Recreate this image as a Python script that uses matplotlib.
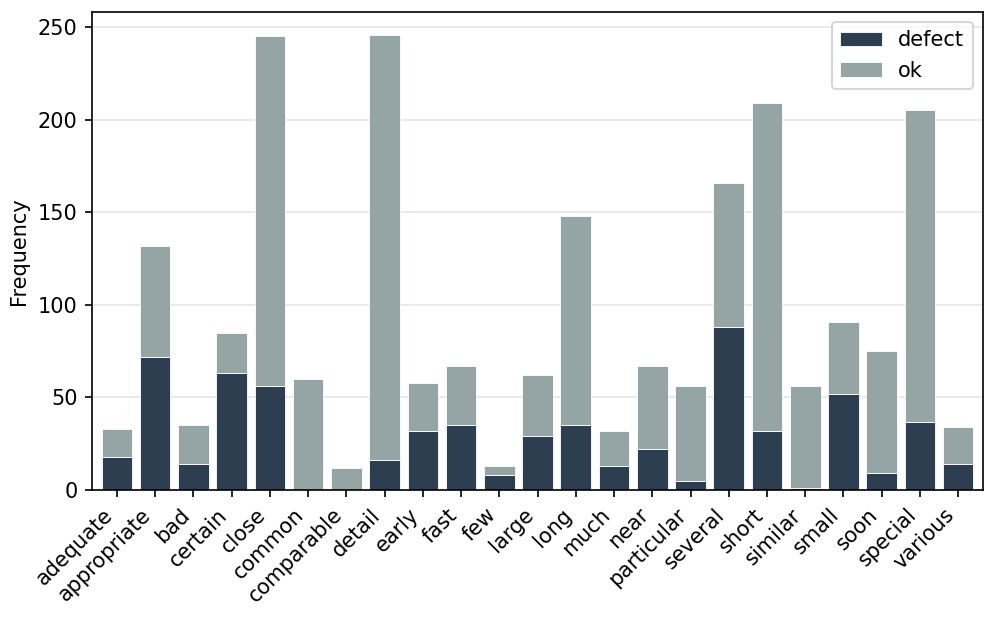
import numpy as np
import matplotlib.pyplot as plt

words = ['adequate', 'appropriate', 'bad', 'certain', 'close', 'common',
         'comparable', 'detail', 'early', 'fast', 'few', 'large', 'long',
         'much', 'near', 'particular', 'several', 'short', 'similar',
         'small', 'soon', 'special', 'various']
defect = [18, 72, 14, 63, 56, 0, 0, 16, 32, 35, 8, 29, 35,
          13, 22, 5, 88, 32, 1, 52, 9, 37, 14]
total = [33, 132, 35, 85, 245, 60, 12, 246, 58, 67, 13, 62, 148,
         32, 67, 56, 166, 209, 56, 91, 75, 205, 34]

ok = np.array(total) - np.array(defect)
x = np.arange(len(words))

fig, ax = plt.subplots(figsize=(6.64, 4.12), dpi=150)
fig.subplots_adjust(left=0.0924, right=0.987, top=0.981, bottom=0.207)

ax.bar(x, defect, width=0.8, color='#2c3e50', edgecolor='white', linewidth=0.4,
       label='defect', zorder=2)
ax.bar(x, ok, width=0.8, bottom=defect, color='#95a5a6', edgecolor='white',
       linewidth=0.4, label='ok', zorder=2)

ax.yaxis.grid(True, color='#e6e6e6', linewidth=0.8, zorder=0)
ax.set_axisbelow(True)
ax.set_xlim(-0.65, len(words) - 0.35)
ax.set_ylim(0, max(total) * 1.05)
ax.set_xticks(x)
ax.set_xticklabels(words, rotation=45, ha='right')
ax.set_ylabel('Frequency')
ax.legend(loc='upper right')

plt.savefig('out.png', dpi=150)
